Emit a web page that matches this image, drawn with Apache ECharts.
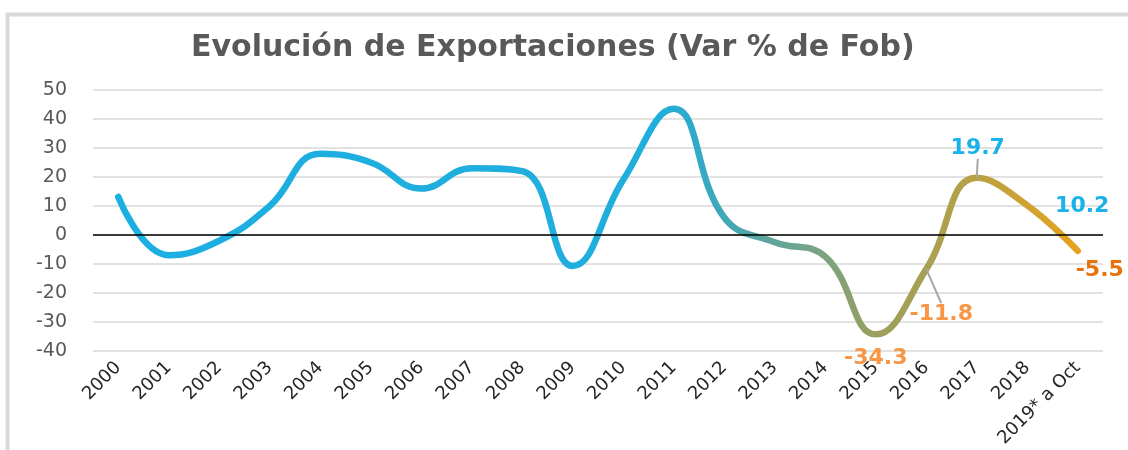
<!DOCTYPE html>
<html>
<head>
<meta charset="utf-8">
<script src="https://cdn.jsdelivr.net/npm/echarts@6/dist/echarts.min.js"></script>
<style>
html,body{margin:0;padding:0;background:#fff;}
#chart{width:1128px;height:450px;}
</style>
</head>
<body>
<div id="chart"></div>
<script>
const categories = ['2000','2001','2002','2003','2004','2005','2006','2007','2008','2009','2010','2011','2012','2013','2014','2015','2016','2017','2018','2019* a Oct'];
const exportsVar = [13.1, -7, -2, 10, 28, 25, 16, 23, 22, -10.7, 19, 43.5, 6, -2.5, -7.5, -34.3, -11.8, 19.7, 10.2, -5.5];
const labelledIndex = [15, 16, 17, 18, 19];
const yTicks = [-40, -30, -20, -10, 0, 10, 20, 30, 40, 50];

const labelStyles = {
  15: {color:'#f79646', dx:0, dy:24, line:false},
  16: {color:'#f79646', dx:15, dy:45, line:true},
  17: {color:'#1ab2ea', dx:1, dy:-30, line:true},
  18: {color:'#1ab2ea', dx:55, dy:1, line:false},
  19: {color:'#e8720c', dx:22, dy:19, line:false}
};

const seriesData = exportsVar.map((v, i) => {
  if (labelledIndex.indexOf(i) < 0) return v;
  const s = labelStyles[i];
  return {
    value: v,
    label: {show: true, position: 'inside', color: s.color},
    labelLine: {show: s.line, lineStyle: {color: '#a6a6a6', width: 2}}
  };
});

const chart = echarts.init(document.getElementById('chart'));
chart.setOption({
  animation: false,
  backgroundColor: '#fff',
  title: {
    text: 'Evolución de Exportaciones (Var % de Fob)',
    left: 186, top: 28,
    textStyle: {fontFamily: 'DejaVu Sans', fontWeight: 'bold', fontSize: 30, color: '#595959'}
  },
  graphic: [{
    type: 'polyline',
    shape: {points: [[7.5, 460], [7.5, 14.5], [1140, 14.5]]},
    style: {stroke: '#d9d9d9', lineWidth: 4, fill: null},
    silent: true
  }],
  grid: {left: 93, right: 25, top: 90, bottom: 99, containLabel: false},
  xAxis: {
    type: 'category',
    data: categories,
    boundaryGap: true,
    axisLine: {show: false},
    axisTick: {show: false},
    axisLabel: {
      rotate: 45, interval: 0, margin: 14,
      fontFamily: 'DejaVu Sans', fontSize: 18, color: '#262626'
    }
  },
  yAxis: {
    type: 'value',
    min: -40, max: 50, interval: 10,
    axisLine: {show: false},
    axisTick: {show: false},
    axisLabel: {fontFamily: 'DejaVu Sans', fontSize: 19, color: '#595959', margin: 26},
    splitLine: {lineStyle: {color: '#d9d9d9', width: 1.5}}
  },
  series: [{
    type: 'line',
    data: seriesData,
    smooth: 0.45,
    symbol: 'circle',
    symbolSize: 0.01,
    showSymbol: true,
    showAllSymbol: true,
    itemStyle: {color: 'rgba(0,0,0,0)', borderWidth: 0},
    lineStyle: {
      width: 6.5,
      cap: 'round',
      color: new echarts.graphic.LinearGradient(0, 0, 1, 0, [
        {offset: 0, color: '#1cafe2'},
        {offset: 0.56, color: '#20aedc'},
        {offset: 0.62, color: '#3aa8bd'},
        {offset: 0.68, color: '#5fa59a'},
        {offset: 0.74, color: '#7ea27c'},
        {offset: 0.79, color: '#9c9f5c'},
        {offset: 0.87, color: '#b0a14c'},
        {offset: 0.93, color: '#c9a236'},
        {offset: 1, color: '#e8a21c'}
      ])
    },
    label: {
      show: false,
      fontFamily: 'DejaVu Sans', fontWeight: 'bold', fontSize: 22
    },
    labelLayout: function (p) {
      const s = labelStyles[p.dataIndex];
      if (!s) return {};
      return {dx: s.dx, dy: s.dy};
    },
    markLine: {
      silent: true,
      symbol: 'none',
      label: {show: false},
      lineStyle: {color: '#000', width: 1.5, type: 'solid'},
      data: [{yAxis: 0}]
    },
    z: 3
  }]
});
</script>
</body>
</html>
